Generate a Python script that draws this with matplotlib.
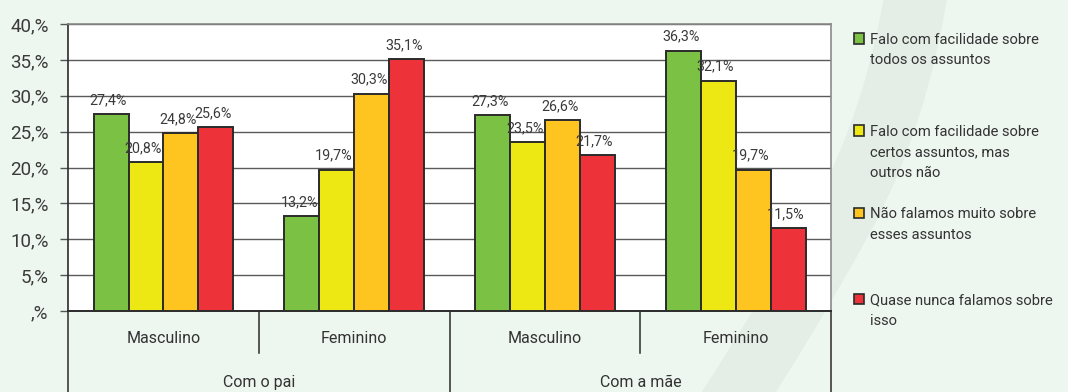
import numpy as np
import matplotlib.pyplot as plt
from matplotlib.patches import Rectangle, PathPatch
from matplotlib.path import Path

plt.rcParams['font.family'] = ['Roboto', 'DejaVu Sans']

# dados
grupos = ['Masculino', 'Feminino', 'Masculino', 'Feminino']
pais = ['Com o pai', 'Com a mãe']
series = [
    'Falo com facilidade sobre\ntodos os assuntos',
    'Falo com facilidade sobre\ncertos assuntos, mas\noutros não',
    'Não falamos muito sobre\nesses assuntos',
    'Quase nunca falamos sobre\nisso',
]
todos = [27.4, 13.2, 27.3, 36.3]
certos = [20.8, 19.7, 23.5, 32.1]
nao_muito = [24.8, 30.3, 26.6, 19.7]
quase_nunca = [25.6, 35.1, 21.7, 11.5]
valores = [todos, certos, nao_muito, quase_nunca]
cores = ['#7bc143', '#ede814', '#fec41f', '#ee3239']

fundo = '#eef6f0'
fig = plt.figure(figsize=(10.68, 3.92), dpi=100, facecolor=fundo)

# marca d'água em curva, bem clara, num eixo de fundo
bg = fig.add_axes([0, 0, 1, 1], zorder=-1)
bg.set_xlim(0, 1)
bg.set_ylim(0, 1)
bg.axis('off')
faixa = Path([(0.86, 1.05), (0.84, 0.70), (0.79, 0.45), (0.74, 0.20), (0.68, -0.05)],
             [Path.MOVETO, Path.CURVE3, Path.CURVE3, Path.CURVE3, Path.CURVE3])
bg.add_patch(PathPatch(faixa, facecolor='none', edgecolor='#e4eee7',
                       linewidth=45, capstyle='round'))

ax = fig.add_axes([0.0637, 0.2066, 0.7145, 0.7322])
ax.set_facecolor('white')

x = np.arange(len(grupos))
larg = 0.183
for i, (v, c) in enumerate(zip(valores, cores)):
    pos = x + (i - 1.5) * larg
    ax.bar(pos, v, width=larg, color=c, edgecolor='#2b2b2b', linewidth=1.4, zorder=3)
    for px, val in zip(pos, v):
        ax.annotate(f'{val:.1f}%'.replace('.', ','), (px, val), xytext=(-2, 5),
                    textcoords='offset points', ha='center', va='bottom',
                    fontsize=10.3, color='#3a3a3a', zorder=4)

ax.set_xlim(-0.5, 3.5)
ax.set_ylim(0, 40)
ax.set_yticks(np.arange(0, 41, 5))
ax.set_yticklabels([f'{t},%' if t else ',%' for t in range(0, 41, 5)],
                   fontsize=13.5, color='#3a3a3a')
ax.tick_params(axis='y', length=6, width=1, color='#555555', pad=8)
ax.set_xticks([])
ax.yaxis.grid(True, color='#5a5a5a', linewidth=1)
ax.set_axisbelow(True)
for s in ['top', 'right']:
    ax.spines[s].set_color('#8a8a8a')
    ax.spines[s].set_linewidth(1.2)
ax.spines['left'].set_color('#2b2b2b')
ax.spines['bottom'].set_color('#2b2b2b')
ax.spines['left'].set_linewidth(1.2)
ax.spines['bottom'].set_linewidth(1.4)

# eixo de categorias em dois níveis
tr = ax.get_xaxis_transform()
for xd in [-0.5, 1.5, 3.5]:
    ax.plot([xd, xd], [0, -0.29], transform=tr, clip_on=False, color='#2b2b2b', lw=1.1)
for xd in [0.5, 2.5]:
    ax.plot([xd, xd], [0, -0.146], transform=tr, clip_on=False, color='#2b2b2b', lw=1.1)
for xi, g in zip(x, grupos):
    ax.text(xi, -0.095, g, transform=tr, ha='center', va='center', fontsize=11.5, color='#333333')
for xi, p in zip([0.5, 2.5], pais):
    ax.text(xi, -0.248, p, transform=tr, ha='center', va='center', fontsize=11.5, color='#333333')

# legenda
ys = [0.905, 0.67, 0.46, 0.24]
for y, c, s in zip(ys, cores, series):
    fig.patches.append(Rectangle((0.7995, y - 0.016), 0.0095, 0.026, transform=fig.transFigure,
                                 facecolor=c, edgecolor='#2b2b2b', linewidth=1.2))
    fig.text(0.8145, y + 0.012, s, ha='left', va='top', fontsize=10.6, color='#333333',
             linespacing=1.62)

fig.savefig('out.png', dpi=100, facecolor=fundo)
